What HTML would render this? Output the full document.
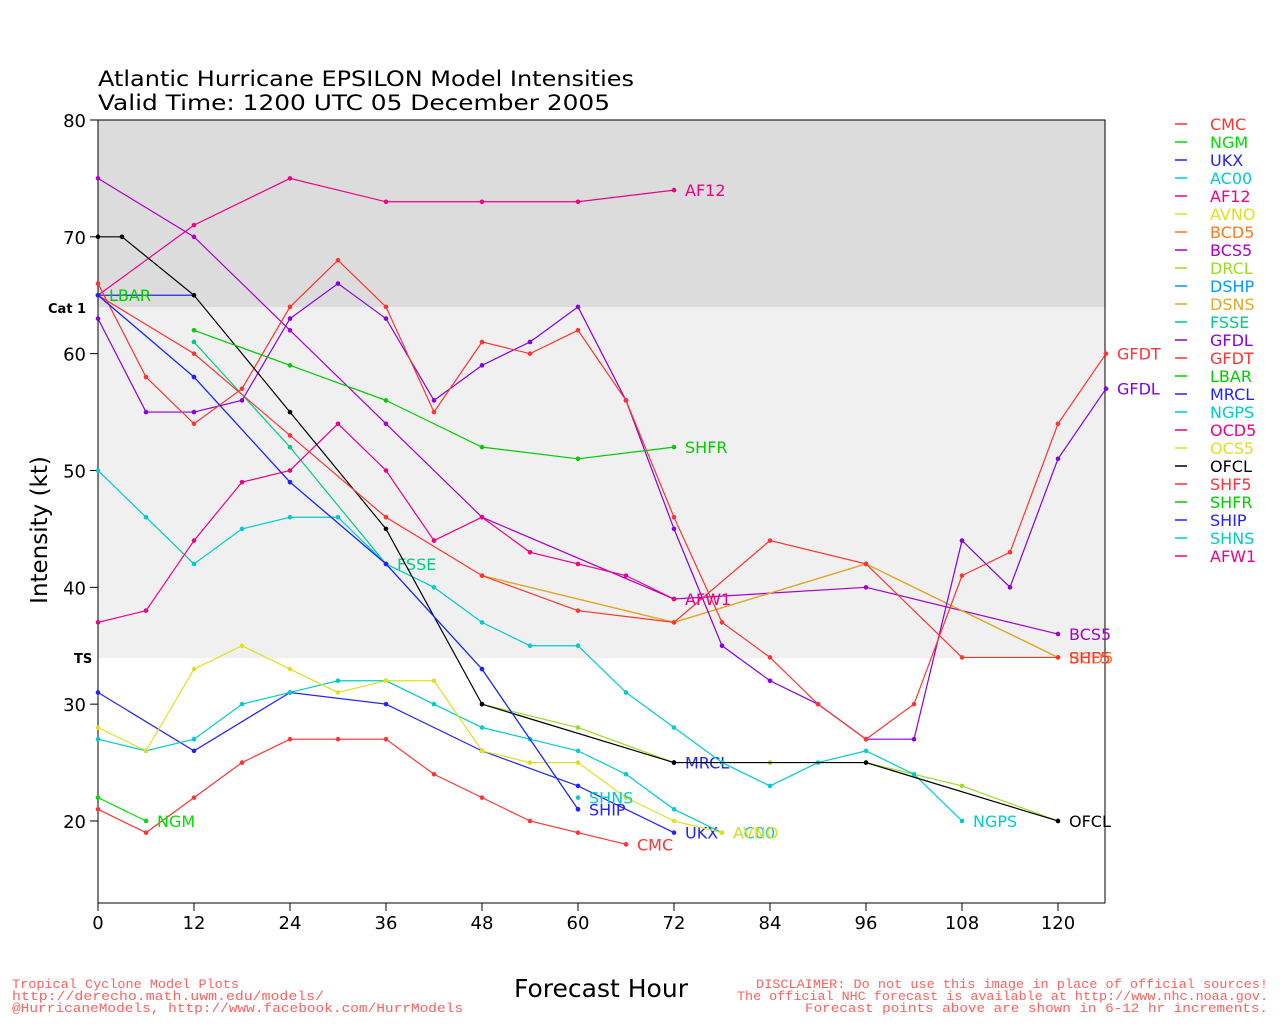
<!DOCTYPE html>
<html><head><meta charset="utf-8"><style>
body{margin:0;background:#fff;width:1280px;height:1024px;overflow:hidden}
svg{font-family:"DejaVu Sans","Liberation Sans",sans-serif}
</style></head><body>
<svg id="s" width="1280" height="1024" xmlns="http://www.w3.org/2000/svg">
<rect x="98" y="120" width="1007" height="187" fill="#dcdcdc"/>
<rect x="98" y="307" width="1007" height="351" fill="#f0f0f0"/>
<rect x="98" y="120" width="1007" height="783" fill="none" stroke="#000" stroke-width="1"/>
<text x="98" y="86" font-size="21" textLength="536" lengthAdjust="spacingAndGlyphs">Atlantic Hurricane EPSILON Model Intensities</text>
<text x="98" y="110" font-size="21" textLength="512" lengthAdjust="spacingAndGlyphs">Valid Time: 1200 UTC 05 December 2005</text>
<text x="48" y="313" font-size="13" font-weight="bold">Cat 1</text>
<text x="74" y="663" font-size="13" font-weight="bold">TS</text>
<text x="47" y="530" font-size="23" transform="rotate(-90 47 530)" text-anchor="middle">Intensity (kt)</text>
<text x="601" y="997" font-size="25" text-anchor="middle">Forecast Hour</text>
<g font-size="13" fill="#ff6060" font-family="Liberation Mono,monospace">
<text x="12" y="988" textLength="227" lengthAdjust="spacingAndGlyphs">Tropical Cyclone Model Plots</text>
<text x="12" y="1000" textLength="312" lengthAdjust="spacingAndGlyphs">http://derecho.math.uwm.edu/models/</text>
<text x="12" y="1012" textLength="451" lengthAdjust="spacingAndGlyphs">@HurricaneModels, http://www.facebook.com/HurrModels</text>
<text x="756" y="988" textLength="512" lengthAdjust="spacingAndGlyphs">DISCLAIMER: Do not use this image in place of official sources!</text>
<text x="737" y="1000" textLength="531" lengthAdjust="spacingAndGlyphs">The official NHC forecast is available at http://www.nhc.noaa.gov.</text>
<text x="805" y="1012" textLength="463" lengthAdjust="spacingAndGlyphs">Forecast points above are shown in 6-12 hr increments.</text>
</g>
<g id="g"></g>
</svg>
<script>
const g=document.getElementById('g');
const X=h=>98+h*8, Y=k=>120+(80-k)*11.683;
let s='';
for(let k=20;k<=80;k+=10){s+=`<line x1="90" x2="98" y1="${Y(k)}" y2="${Y(k)}" stroke="#000"/><text x="86" y="${Y(k)+7}" font-size="18" text-anchor="end">${k}</text>`;}
for(let h=0;h<=120;h+=12){s+=`<line x1="${X(h)}" x2="${X(h)}" y1="903" y2="911" stroke="#000"/><text x="${X(h)}" y="929" font-size="18" text-anchor="middle">${h}</text>`;}
const D=[
["CMC","#ff3333",[[0,21],[6,19],[12,22],[18,25],[24,27],[30,27],[36,27],[42,24],[48,22],[54,20],[60,19],[66,18]],1],
["NGM","#00dd00",[[0,22],[6,20]],1],
["UKX","#2222ff",[[0,31],[12,26],[24,31],[36,30],[48,26],[60,23],[72,19]],1],
["AC00","#00cccc",[[0,27],[6,26],[12,27],[18,30],[24,31],[30,32],[36,32],[42,30],[48,28],[54,27],[60,26],[66,24],[72,21],[78,19]],1],
["AF12","#ee0088",[[0,65],[12,71],[24,75],[36,73],[48,73],[60,73],[72,74]],1],
["AVNO","#e0e020",[[0,28],[6,26],[12,33],[18,35],[24,33],[30,31],[36,32],[42,32],[48,26],[54,25],[60,25],[66,22],[72,20],[78,19]],1],
["BCD5","#ff7722",[[48,41],[72,37],[96,42],[120,34]],1],
["BCS5","#aa00cc",[[0,75],[12,70],[24,62],[36,54],[48,46],[72,39],[96,40],[120,36]],1],
["DRCL","#99dd22",[[48,30],[60,28],[72,25],[84,25],[96,25],[108,23],[120,20]],0],
["DSHP","#0099ff",[[0,65],[12,58],[24,49],[36,42],[48,33],[60,21]],0],
["DSNS","#ddaa22",[[48,41],[72,37],[96,42],[120,34]],0],
["FSSE","#00cc88",[[12,61],[24,52],[36,42]],1],
["GFDL","#8800dd",[[0,63],[6,55],[12,55],[18,56],[24,63],[30,66],[36,63],[42,56],[48,59],[54,61],[60,64],[66,56],[72,45],[78,35],[84,32],[90,30],[96,27],[102,27],[108,44],[114,40],[120,51],[126,57]],1],
["GFDT","#ff3333",[[0,66],[6,58],[12,54],[18,57],[24,64],[30,68],[36,64],[42,55],[48,61],[54,60],[60,62],[66,56],[72,46],[78,37],[84,34],[90,30],[96,27],[102,30],[108,41],[114,43],[120,54],[126,60]],1],
["LBAR","#00cc00",[[0,65]],1],
["MRCL","#2222ff",[[72,25]],1],
["NGPS","#00cccc",[[0,50],[6,46],[12,42],[18,45],[24,46],[30,46],[36,42],[42,40],[48,37],[54,35],[60,35],[66,31],[72,28],[78,25],[84,23],[90,25],[96,26],[102,24],[108,20]],1],
["OCD5","#ee0088",[[0,37],[6,38],[12,44],[18,49],[24,50],[30,54],[36,50],[42,44],[48,46],[54,43],[60,42],[66,41],[72,39]],0],
["OCS5","#e0e020",[],0],
["OFCL","#000000",[[0,70],[3,70],[12,65],[24,55],[36,45],[48,30],[72,25],[96,25],[120,20]],1],
["SHF5","#ff3333",[[0,65],[12,60],[24,53],[36,46],[48,41],[60,38],[72,37],[84,44],[96,42],[108,34],[120,34]],1],
["SHFR","#00cc00",[[12,62],[24,59],[36,56],[48,52],[60,51],[72,52]],1],
["SHIP","#2222ff",[[0,65],[12,58],[24,49],[36,42],[48,33],[60,21]],1],
["SHNS","#00cccc",[[60,22]],1],
["AFW1","#ee0088",[[72,39]],1]];
s+=`<polyline fill="none" stroke="#2222ff" stroke-width="1.2" points="${X(0)},${Y(65)} ${X(12)},${Y(65)}"/>`;
D.forEach((d,i)=>{
 const [n,c,p,lab]=d;
 if(p.length>1) s+=`<polyline fill="none" stroke="${c}" stroke-width="1.2" points="${p.map(q=>X(q[0])+','+Y(q[1])).join(' ')}"/>`;
 p.forEach(q=>s+=`<circle cx="${X(q[0])}" cy="${Y(q[1])}" r="2.3" fill="${c}"/>`);
 if(p.length&&lab){const q=p[p.length-1];s+=`<text x="${X(q[0])+11}" y="${Y(q[1])+6}" font-size="16" fill="${c}">${n}</text>`;}
 const ly=124+i*18;
 s+=`<line x1="1175" x2="1187" y1="${ly}" y2="${ly}" stroke="${c}" stroke-width="1.5"/><text x="1210" y="${ly+6}" font-size="16" fill="${c}">${n}</text>`;
});
g.innerHTML=s;
</script>
</body></html>
